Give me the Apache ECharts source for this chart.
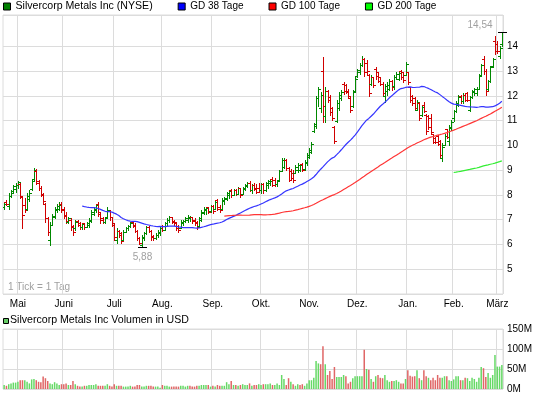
<!DOCTYPE html>
<html>
<head>
<meta charset="utf-8">
<title>Silvercorp Metals Inc (NYSE)</title>
<script src="https://cdn.jsdelivr.net/npm/echarts@6/dist/echarts.min.js"></script>
<style>
html, body { margin: 0; padding: 0; background: #fff; }
#chart { width: 545px; height: 398px; }
</style>
</head>
<body>
<div id="chart"></div>
<script>
// daily bars, one row per trading day: [open, high, low, close]
var bars = [
  [7.50,7.72,7.45,7.65],[7.72,7.79,7.58,7.62],[7.55,8.06,7.45,7.95],[7.95,8.20,7.92,8.15],[8.10,8.39,8.06,8.35],
  [8.25,8.50,8.13,8.40],[8.40,8.58,8.30,8.52],[8.45,8.48,7.87,7.95],[7.90,7.94,6.65,7.20],[7.60,7.87,7.33,7.40],
  [7.45,8.08,7.40,7.95],[7.85,8.21,7.74,8.10],[8.25,8.60,8.20,8.55],[8.65,9.10,8.60,9.00],[8.95,9.03,8.45,8.50],
  [8.55,8.62,8.20,8.30],[8.30,8.35,7.94,8.00],[8.05,8.10,7.67,7.75],[7.65,7.67,6.92,7.05],[7.05,7.10,6.40,6.50],
  [6.20,6.90,5.97,6.80],[6.80,7.25,6.78,7.15],[7.10,7.52,7.05,7.45],[7.40,7.65,7.30,7.55],[7.45,7.70,7.38,7.60],
  [7.65,7.72,7.30,7.40],[7.45,7.50,7.05,7.15],[7.20,7.30,6.85,6.95],[6.90,7.10,6.85,7.05],[7.00,7.08,6.60,6.70],
  [6.75,6.80,6.38,6.50],[6.65,7.00,6.60,6.90],[6.95,7.00,6.75,6.80],[6.85,6.90,6.62,6.70],[6.70,6.88,6.64,6.82],
  [6.85,6.88,6.64,6.70],[6.72,6.92,6.70,6.88],[6.80,7.05,6.72,7.00],[6.95,7.38,6.90,7.30],[7.25,7.52,7.20,7.45],
  [7.40,7.65,7.30,7.60],[7.62,7.70,7.15,7.25],[7.30,7.32,6.88,7.00],[7.05,7.10,6.85,6.92],[6.90,7.12,6.88,7.08],
  [7.10,7.52,7.05,7.40],[7.35,7.40,7.00,7.10],[7.10,7.12,6.75,6.85],[6.80,6.82,6.17,6.30],[6.20,6.65,6.04,6.55],
  [6.55,6.60,6.31,6.40],[6.45,6.50,6.04,6.15],[6.20,6.60,6.20,6.50],[6.50,6.72,6.50,6.68],[6.65,6.80,6.58,6.75],
  [6.75,6.92,6.72,6.88],[6.90,6.92,6.70,6.75],[6.78,6.85,6.50,6.55],[6.55,6.58,6.17,6.25],[6.25,6.30,6.00,6.05],
  [5.98,6.38,5.88,6.30],[6.25,6.52,6.20,6.45],[6.45,6.75,6.42,6.70],[6.72,6.75,6.50,6.55],[6.55,6.60,6.20,6.30],
  [6.35,6.40,6.20,6.25],[6.25,6.45,6.22,6.40],[6.38,6.58,6.32,6.52],[6.45,6.72,6.40,6.68],[6.75,6.80,6.55,6.60],
  [6.60,6.90,6.60,6.85],[6.85,7.05,6.80,7.00],[6.98,7.15,6.92,7.10],[7.10,7.12,6.85,6.90],[6.95,7.00,6.78,6.85],
  [6.90,6.92,6.58,6.65],[6.75,6.80,6.50,6.60],[6.65,6.98,6.65,6.92],[6.85,7.00,6.80,6.95],[6.95,7.12,6.90,7.08],
  [7.00,7.18,6.92,7.12],[7.05,7.15,6.95,7.10],[7.10,7.10,6.88,6.95],[7.00,7.05,6.80,6.88],[6.90,6.95,6.64,6.70],
  [6.75,7.12,6.70,7.05],[7.00,7.38,6.95,7.30],[7.28,7.52,7.25,7.45],[7.40,7.50,7.25,7.48],[7.50,7.52,7.28,7.32],
  [7.35,7.60,7.30,7.55],[7.55,7.58,7.28,7.35],[7.45,7.80,7.42,7.72],[7.78,7.85,7.38,7.45],[7.50,7.60,7.32,7.40],
  [7.45,7.86,7.45,7.80],[7.75,7.92,7.65,7.88],[7.85,8.13,7.80,8.08],[8.00,8.20,7.86,8.15],[8.20,8.26,7.92,7.98],
  [8.00,8.26,7.99,8.20],[8.22,8.26,8.00,8.05],[8.05,8.33,8.05,8.28],[8.28,8.30,7.92,8.00],[8.05,8.33,8.05,8.28],
  [8.25,8.46,8.20,8.40],[8.35,8.53,8.33,8.48],[8.50,8.55,8.15,8.20],[8.20,8.45,8.10,8.40],[8.42,8.48,8.20,8.25],
  [8.30,8.45,8.07,8.12],[8.30,8.47,8.13,8.20],[8.20,8.50,8.07,8.45],[8.45,8.50,8.10,8.20],[8.20,8.54,8.15,8.50],
  [8.40,8.60,8.30,8.55],[8.50,8.62,8.40,8.58],[8.65,8.72,8.35,8.40],[8.60,8.70,8.35,8.45],[8.45,8.60,8.35,8.58],
  [8.60,9.00,8.60,8.95],[8.95,9.50,8.95,9.40],[9.15,9.48,9.07,9.40],[9.40,9.45,9.00,9.10],[9.10,9.14,8.55,8.60],
  [8.95,9.05,8.65,8.70],[8.90,9.00,8.54,8.60],[8.90,9.20,8.87,9.15],[9.00,9.28,8.94,9.22],[9.00,9.25,8.95,9.20],
  [9.25,9.28,8.95,9.00],[9.05,9.40,9.00,9.35],[9.30,9.70,9.20,9.60],[9.55,9.88,9.50,9.80],[9.75,10.15,9.68,10.05],
  [10.60,10.90,10.55,10.80],[10.85,12.00,10.70,11.90],[11.90,12.38,11.60,12.30],[11.50,12.15,11.36,12.05],[13.00,13.58,10.95,11.60],
  [11.20,12.36,10.95,12.20],[12.20,12.25,11.76,11.85],[11.95,12.03,11.22,11.35],[11.50,11.56,11.02,11.10],[10.75,10.77,10.08,10.20],
  [11.00,11.83,10.95,11.70],[11.50,12.16,11.42,12.05],[11.90,12.23,11.83,12.15],[12.50,12.56,12.09,12.20],[12.45,12.50,12.10,12.15],
  [12.20,12.30,11.90,12.00],[11.90,11.96,11.36,11.45],[11.60,12.23,11.55,12.15],[12.20,12.77,12.17,12.70],[12.80,13.10,12.78,13.05],
  [12.95,13.33,12.90,13.25],[13.25,13.60,13.20,13.50],[13.50,13.55,12.80,12.95],[13.35,13.45,12.90,13.00],[12.85,12.90,11.98,12.10],
  [12.50,12.83,12.45,12.75],[12.75,12.77,12.36,12.45],[13.10,13.17,12.70,12.80],[12.95,12.97,12.56,12.60],[12.75,12.77,12.43,12.50],
  [12.50,12.56,12.03,12.10],[12.00,12.50,11.76,12.40],[12.20,12.56,12.03,12.45],[12.30,12.70,12.23,12.60],[12.60,12.63,12.23,12.35],
  [12.40,12.83,12.30,12.75],[12.75,12.97,12.70,12.90],[12.70,12.97,12.63,12.92],[13.00,13.03,12.70,12.78],[12.95,12.97,12.56,12.65],
  [12.85,13.37,12.83,13.30],[12.95,12.97,12.50,12.55],[12.35,12.36,11.76,11.85],[12.00,12.03,11.62,11.70],[11.90,11.96,11.42,11.50],
  [11.45,11.83,11.42,11.75],[11.70,11.76,11.02,11.10],[11.25,11.62,11.20,11.55],[11.65,11.76,11.36,11.40],[11.25,11.29,10.48,10.60],
  [11.20,11.22,10.68,10.75],[11.10,11.29,10.48,10.55],[10.45,10.48,10.08,10.15],[10.30,10.35,10.08,10.12],[10.40,10.42,10.00,10.05],
  [10.20,10.21,9.48,9.60],[9.50,10.08,9.38,9.95],[10.00,10.48,10.00,10.40],[10.65,10.68,10.30,10.35],[10.20,10.82,10.00,10.75],
  [10.70,11.02,10.62,10.95],[11.10,11.45,11.00,11.40],[11.40,11.78,11.35,11.70],[11.65,12.05,11.58,11.95],[12.00,12.05,11.70,11.80],
  [11.80,12.10,11.72,12.05],[12.05,12.10,11.80,11.85],[12.10,12.15,11.80,11.85],[11.45,12.00,11.38,11.95],[11.95,12.25,11.92,12.20],
  [12.15,12.32,12.05,12.28],[12.10,12.36,12.03,12.30],[12.30,12.88,12.28,12.82],[12.85,13.30,12.83,13.25],[13.50,13.60,12.90,13.00],
  [13.00,13.10,12.05,12.20],[12.30,12.66,12.25,12.60],[12.60,13.20,12.55,13.15],[13.20,13.55,13.15,13.50],[14.20,14.43,13.70,13.80],
  [14.10,14.20,13.75,13.80],[13.60,14.00,13.53,13.95],[14.10,14.54,14.00,14.45]
];

// daily volume, million USD
var volume = [
  10, 8,12,14,16,16,18,22,22,22,18,14,24,25,22,18,17,31,27,20,14,
  12,17,14,10,12,12,14,10,10,20,12, 8, 6, 6, 8, 8,10,10,10,12,
   8, 8, 8, 8,12, 8, 6,12, 8, 8, 8, 6, 6, 6, 8, 6, 6,10,10, 6,
   6, 8, 8, 8, 6, 6, 6, 3,10, 8, 8, 6, 6, 6, 6, 6, 8, 8, 6, 8,
   8, 6, 6, 8, 8,10,10,10,10, 6, 8, 6,10, 8, 8, 8,17,12,20,10,
  10, 8,10,12,10,10,14, 8,10,10,12,10,12,12,12,14,10,10,14,10,
  35,25,10,27,18,12, 8,12,10,12, 8,14,22,22,28,70,64,62,107,62,
  35,45,25,55,30,30,30,35,32,14,18,27,32,32,32,32,98,50,48,25,
  18,32,35,28,27,35,22,18,20,20,22,18,14,14,25,47,33,31,32,
  47,27,22,47,32,28,22,28,22,35,28,28,32,32,22,20,24,32,32,22,
  22,28,27,20,28,25,18,28,55,52,30,40,28,35,85,56,56,60
];

var monthNames = ['Jan.', 'Feb.', 'März', 'Apr.', 'Mai', 'Juni', 'Juli', 'Aug.', 'Sep.', 'Okt.', 'Nov.', 'Dez.'];
var firstDay = '2010-04-23';
var holidays = ['2010-05-31', '2010-07-05', '2010-09-06', '2010-11-25', '2010-12-24', '2011-01-17', '2011-02-21'];

var GREEN = '#008800', RED = '#d00000';
var GRID_COLOR = '#dcdcdc';
var FONT = '"Liberation Sans", Arial, sans-serif';

// NYSE trading days, one per bar
function tradingDays(start, n) {
  var out = [];
  var d = new Date(start + 'T00:00:00Z');
  while (out.length < n) {
    var s = d.toISOString().slice(0, 10);
    var wd = d.getUTCDay();
    if (wd !== 0 && wd !== 6 && holidays.indexOf(s) < 0) out.push(s);
    d.setUTCDate(d.getUTCDate() + 1);
  }
  return out;
}
var dates = tradingDays(firstDay, bars.length);

function isMonthStart(i) {
  return i > 0 && dates[i].slice(5, 7) !== dates[i - 1].slice(5, 7);
}

var close = bars.map(function (b) { return b[3]; });

// feed starts a few days before the visible window, so the averages start a bit early
function movingAvg(period) {
  return close.map(function (c, i) {
    if (i < period - 4) return '-';
    var from = Math.max(0, i - period + 1), s = 0;
    for (var j = from; j <= i; j++) s += close[j];
    return +(s / (i - from + 1)).toFixed(3);
  });
}

var lowIdx = 0, highIdx = 0;
bars.forEach(function (b, i) {
  if (b[2] < bars[lowIdx][2]) lowIdx = i;
  if (b[1] > bars[highIdx][1]) highIdx = i;
});

function fmt(v) { return v.toFixed(2).replace('.', ','); }

function renderBar(params, api) {
  var i = api.value(0);
  var o = api.value(1), h = api.value(2), l = api.value(3), c = api.value(4);
  var pO = api.coord([i, o]), pH = api.coord([i, h]), pL = api.coord([i, l]), pC = api.coord([i, c]);
  var x = Math.round(pO[0]);
  var st = { stroke: c >= o ? GREEN : RED, lineWidth: 1 };
  var yo = Math.round(pO[1]) + 0.5, yc = Math.round(pC[1]) + 0.5;
  return {
    type: 'group',
    children: [
      { type: 'line', shape: { x1: x + 0.5, y1: Math.round(pH[1]), x2: x + 0.5, y2: Math.round(pL[1]) + 1 }, style: st },
      { type: 'line', shape: { x1: x - 2, y1: yo, x2: x, y2: yo }, style: st },
      { type: 'line', shape: { x1: x + 1, y1: yc, x2: x + 3, y2: yc }, style: st }
    ]
  };
}

function renderExtreme(params, api) {
  var p = api.coord([api.value(0), api.value(1)]);
  var isHigh = api.value(2) === 1;
  var x = Math.round(p[0]) + 0.5, y = Math.round(p[1]) + (isHigh ? -0.5 : 0.5);
  var txt = fmt(api.value(1));
  return {
    type: 'group',
    children: [
      { type: 'line', shape: { x1: x - 4.5, y1: y, x2: x + 4.5, y2: y }, style: { stroke: '#000', lineWidth: 1 } },
      isHigh
        ? { type: 'text', style: { text: txt, x: x - 10, y: y - 2, align: 'right', verticalAlign: 'bottom', fill: '#a0a0a0', font: '10px ' + FONT } }
        : { type: 'text', style: { text: txt, x: x, y: y + 5, align: 'center', verticalAlign: 'top', fill: '#a0a0a0', font: '10px ' + FONT } }
    ]
  };
}

var priceSplitColors = [];
for (var k = 4; k <= 14; k++) priceSplitColors.push(GRID_COLOR);
priceSplitColors.push('rgba(0,0,0,0)'); // 15
priceSplitColors.push(GRID_COLOR);      // top edge

var chart = echarts.init(document.getElementById('chart'), null, { renderer: 'canvas' });

var option = {
  animation: false,
  textStyle: { fontFamily: FONT, fontSize: 10, color: '#000' },
  legend: {
    left: 3, top: 1, padding: 0,
    icon: 'rect', itemWidth: 7, itemHeight: 7, itemGap: 25,
    selectedMode: false,
    textStyle: { fontSize: 10, color: '#000' },
    data: [
      { name: 'Silvercorp Metals Inc (NYSE)', textStyle: { fontSize: 10.6 }, itemStyle: { color: '#008000', borderColor: '#000', borderWidth: 1 } },
      { name: 'GD 38 Tage', itemStyle: { color: '#0000ff', borderColor: '#000', borderWidth: 1 } },
      { name: 'GD 100 Tage', itemStyle: { color: '#ff0000', borderColor: '#000', borderWidth: 1 } },
      { name: 'GD 200 Tage', itemStyle: { color: '#00ff00', borderColor: '#000', borderWidth: 1 } }
    ]
  },
  graphic: [
    { type: 'text', left: 8, top: 282, style: { text: '1 Tick = 1 Tag', fill: '#a0a0a0', font: '10px ' + FONT } },
    { type: 'rect', shape: { x: 3.5, y: 318.5, width: 5, height: 5 }, style: { fill: '#66cc66', stroke: '#000', lineWidth: 1 } },
    { type: 'text', left: 10, top: 315, style: { text: 'Silvercorp Metals Inc Volumen in USD', fill: '#000', font: '10.6px ' + FONT } }
  ],
  grid: [
    { left: 3, right: 42, top: 15, height: 279, show: true, borderColor: GRID_COLOR, borderWidth: 1 },
    { left: 3, right: 42, top: 329, height: 60, show: true, borderColor: GRID_COLOR, borderWidth: 1 }
  ],
  xAxis: [
    {
      type: 'category', gridIndex: 0, data: dates, boundaryGap: true,
      axisLine: { show: false },
      axisTick: { show: false, interval: isMonthStart },
      axisLabel: {
        interval: isMonthStart, margin: 5, fontSize: 10, color: '#000',
        formatter: function (v) { return monthNames[+v.slice(5, 7) - 1]; }
      },
      splitLine: { show: true, interval: isMonthStart, lineStyle: { color: GRID_COLOR } }
    },
    {
      type: 'category', gridIndex: 1, data: dates, boundaryGap: true,
      axisLine: { show: false },
      axisTick: { show: false, interval: isMonthStart },
      axisLabel: { show: false },
      splitLine: { show: true, interval: isMonthStart, lineStyle: { color: GRID_COLOR } }
    }
  ],
  yAxis: [
    {
      type: 'value', gridIndex: 0, position: 'right',
      min: 4, max: 15.27, interval: 1,
      axisLine: { show: false }, axisTick: { show: false },
      axisLabel: {
        margin: 4, fontSize: 10, color: '#000',
        formatter: function (v) { return (v >= 5 && v <= 14 && v % 1 === 0) ? String(v) : ''; }
      },
      splitLine: { lineStyle: { color: priceSplitColors } }
    },
    {
      type: 'value', gridIndex: 1, position: 'right',
      min: 0, max: 150, interval: 50,
      axisLine: { show: false }, axisTick: { show: false },
      axisLabel: { margin: 4, fontSize: 10, color: '#000', formatter: '{value}M' },
      splitLine: { lineStyle: { color: GRID_COLOR } }
    }
  ],
  series: [
    {
      name: 'Silvercorp Metals Inc (NYSE)', type: 'custom',
      xAxisIndex: 0, yAxisIndex: 0,
      itemStyle: { color: '#008000' },
      renderItem: renderBar,
      encode: { x: 0, y: [1, 2, 3, 4] },
      data: bars.map(function (b, i) { return [i, b[0], b[1], b[2], b[3]]; }),
      clip: true, z: 2
    },
    {
      name: 'GD 38 Tage', type: 'line', xAxisIndex: 0, yAxisIndex: 0,
      data: movingAvg(38), showSymbol: false, symbol: 'none',
      lineStyle: { color: '#3535ff', width: 1.2 }, itemStyle: { color: '#0000ff' }, z: 3
    },
    {
      name: 'GD 100 Tage', type: 'line', xAxisIndex: 0, yAxisIndex: 0,
      data: movingAvg(100), showSymbol: false, symbol: 'none',
      lineStyle: { color: '#ff3535', width: 1.2 }, itemStyle: { color: '#ff0000' }, z: 3
    },
    {
      name: 'GD 200 Tage', type: 'line', xAxisIndex: 0, yAxisIndex: 0,
      data: movingAvg(200), showSymbol: false, symbol: 'none',
      lineStyle: { color: '#33ee33', width: 1.2 }, itemStyle: { color: '#00ff00' }, z: 3
    },
    {
      name: 'extremes', type: 'custom', xAxisIndex: 0, yAxisIndex: 0,
      renderItem: renderExtreme,
      encode: { x: 0, y: 1 },
      data: [[lowIdx, bars[lowIdx][2], 0], [highIdx, bars[highIdx][1], 1]],
      clip: false, z: 4, silent: true
    },
    {
      name: 'Silvercorp Metals Inc Volumen in USD', type: 'bar',
      xAxisIndex: 1, yAxisIndex: 1, barWidth: 1.5,
      data: volume.map(function (v, i) {
        var prev = i > 0 ? close[i - 1] : bars[0][0];
        return { value: v, itemStyle: { color: close[i] >= prev ? '#66d966' : '#e06666' } };
      })
    }
  ]
};

chart.setOption(option);
</script>
</body>
</html>
